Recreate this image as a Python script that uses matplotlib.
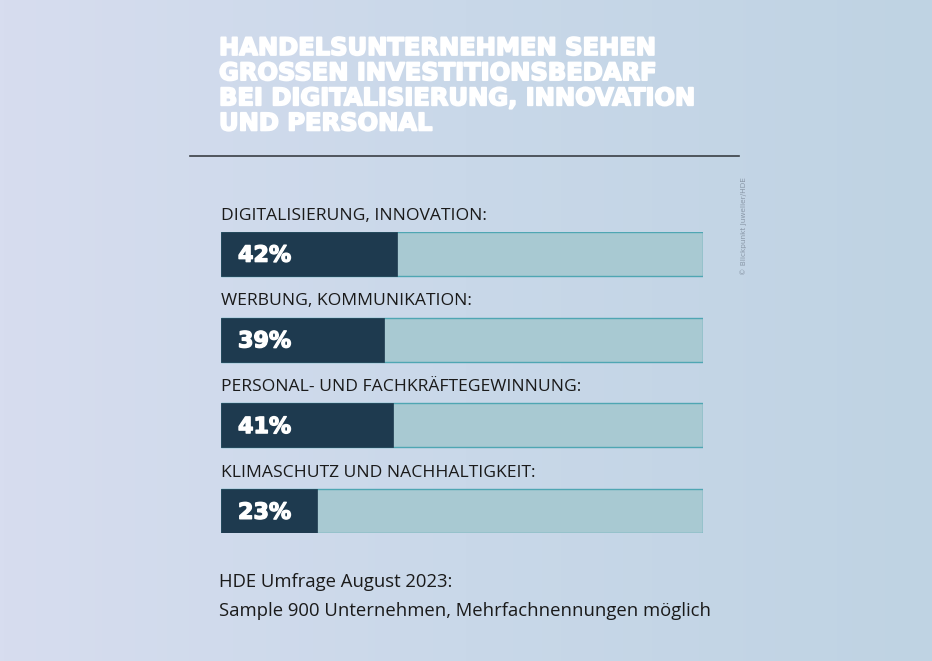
import numpy as np
import matplotlib.pyplot as plt
import matplotlib.patheffects as pe
from matplotlib.colors import LinearSegmentedColormap

# data
categories = ['DIGITALISIERUNG, INNOVATION:', 'WERBUNG, KOMMUNIKATION:',
              'PERSONAL- UND FACHKRÄFTEGEWINNUNG:', 'KLIMASCHUTZ UND NACHHALTIGKEIT:']
values = [42, 39, 41, 23]
track_max = 115  # the light track is drawn a bit longer than 100 in the original

title = ('HANDELSUNTERNEHMEN SEHEN\nGROSSEN INVESTITIONSBEDARF\n'
         'BEI DIGITALISIERUNG, INNOVATION\nUND PERSONAL')
footer = ['HDE Umfrage August 2023:', 'Sample 900 Unternehmen, Mehrfachnennungen möglich']
credit = '© Blickpunkt Juwelier/HDE'

W, H = 932, 661
fig = plt.figure(figsize=(W / 100, H / 100), dpi=100)

# background gradient
bg = fig.add_axes([0, 0, 1, 1])
cmap = LinearSegmentedColormap.from_list('bg', ['#d7ddef', '#c9d8e9', '#bfd3e3'])
grad = np.linspace(0, 1, 256).reshape(1, -1)
bg.imshow(grad, aspect='auto', cmap=cmap, extent=[0, W, H, 0])
bg.set_xlim(0, W)
bg.set_ylim(H, 0)
bg.axis('off')

heavy = [pe.withStroke(linewidth=1.3, foreground='white')]

# title + rule
bg.text(219, 36, title, color='white', fontsize=17.4, fontweight='heavy',
        family='DejaVu Sans', va='top', ha='left', linespacing=1.06,
        path_effects=heavy)
bg.plot([190, 739], [156, 156], color='#3a3f45', lw=1.2)

# credit
bg.text(744, 226, credit, rotation=90, color='#8a98a8', fontsize=5.3,
        family='DejaVu Sans', ha='center', va='center')

# footer
bg.text(219, 582, footer[0], color='#1a1a1a', fontsize=13.3, family='Open Sans',
        va='center', ha='left')
bg.text(219, 611, footer[1], color='#1a1a1a', fontsize=13.3, family='Open Sans',
        va='center', ha='left')

# bars
left, right, top, bottom = 221, 703, 232, 533
ax = fig.add_axes([left / W, 1 - bottom / H, (right - left) / W, (bottom - top) / H])
ax.patch.set_alpha(0)
pos = np.arange(len(values))
bh = 44 / 86
ax.barh(pos, [track_max] * len(values), height=bh, color='#a8c9d2',
        edgecolor='#4fa6b3', linewidth=1.0)
ax.barh(pos, values, height=bh, color='#1e3a4f', edgecolor='#1e3a4f', linewidth=0.5)
ax.set_xlim(0, track_max)
ax.set_ylim(len(values) - 1 + bh / 2, -bh / 2)
ax.axis('off')

for i, (cat, v) in enumerate(zip(categories, values)):
    ax.text(0, i - bh / 2 - 0.19, cat, color='#1a1a1a', fontsize=12.6, family='Open Sans',
            va='center', ha='left', clip_on=False)
    ax.text(track_max * 17 / 482, i + 0.02, f'{v}%', color='white', fontsize=16,
            fontweight='bold', family='DejaVu Sans', va='center', ha='left',
            path_effects=[pe.withStroke(linewidth=1.0, foreground='white')])

fig.savefig('out.png', dpi=100)
